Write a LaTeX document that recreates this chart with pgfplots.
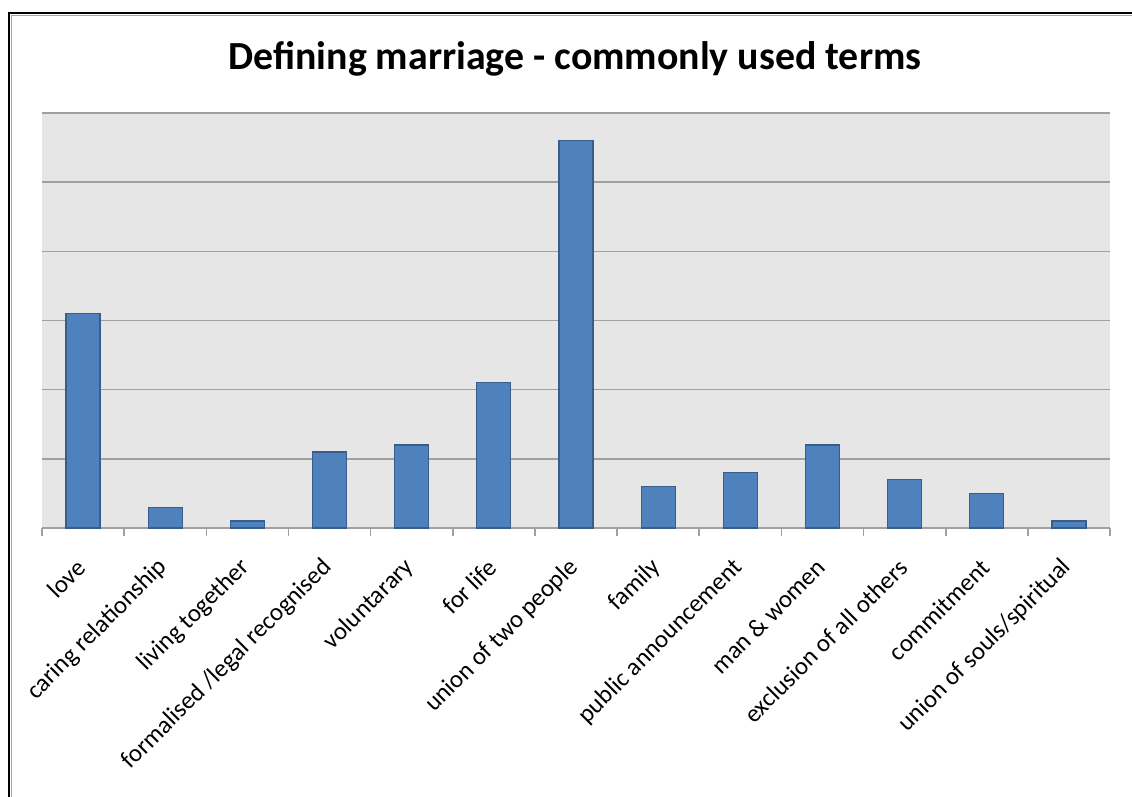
\documentclass[border=0pt]{standalone}
\usepackage{pgfplots}
\pgfplotsset{compat=1.18}
\usepackage{fontspec}
\setmainfont{Carlito}

\definecolor{barblue}{RGB}{79,129,189}
\definecolor{baredge}{RGB}{56,93,138}
\definecolor{plotbg}{RGB}{230,230,230}
\definecolor{gridgrey}{RGB}{160,160,160}

\begin{document}
\begin{tikzpicture}[x=1bp,y=1bp]
\useasboundingbox (0,0) rectangle (566,398);
\fill[white] (0,0) rectangle (566,398);
% outer frame (cut off at right and bottom)
\draw[black,line width=1.1bp] (4.5,-10) -- (4.5,391.5) -- (580,391.5);
\draw[gray!70,line width=0.8bp] (5.8,-10) -- (5.8,390.3) -- (580,390.3);

\node[font=\bfseries\fontsize{20}{24}\selectfont] at (287.5,368.5) {Defining marriage - commonly used terms};

\begin{axis}[
  at={(21bp,134bp)}, anchor=south west,
  scale only axis,
  width=534bp, height=207.5bp,
  xmin=-0.5, xmax=12.5,
  ymin=0, ymax=60,
  ybar, bar width=17bp,
  axis background/.style={fill=plotbg},
  axis x line*=bottom,
  axis y line*=left,
  x axis line style={draw=gridgrey, line width=0.8bp},
  y axis line style={draw=none},
  ytick={0,10,...,60},
  yticklabels={},
  ytick style={draw=none},
  ymajorgrids=true,
  grid style={draw=gridgrey, line width=0.8bp},
  xtick={0,...,12},
  major x tick style={draw=none},
  minor xtick={-0.5,0.5,...,12.5},
  minor x tick style={draw=gridgrey, line width=0.8bp},
  xtick align=outside,
  minor tick length=4bp,
  major tick length=0pt,
  xticklabels={love, caring relationship, living together, formalised /legal recognised, voluntarary, for life, union of two people, family, public announcement, man \& women, exclusion of all others, commitment, union of souls/spiritual},
  xticklabel style={rotate=45, anchor=east, xshift=-9.6bp, yshift=-12bp, font=\fontsize{12.5}{15}\selectfont},
  clip=false,
]
\addplot[fill=barblue, draw=baredge, line width=0.6bp] coordinates {
  (0,31) (1,3) (2,1) (3,11) (4,12) (5,21) (6,56) (7,6) (8,8) (9,12) (10,7) (11,5) (12,1)
};
\end{axis}
\end{tikzpicture}
\end{document}
